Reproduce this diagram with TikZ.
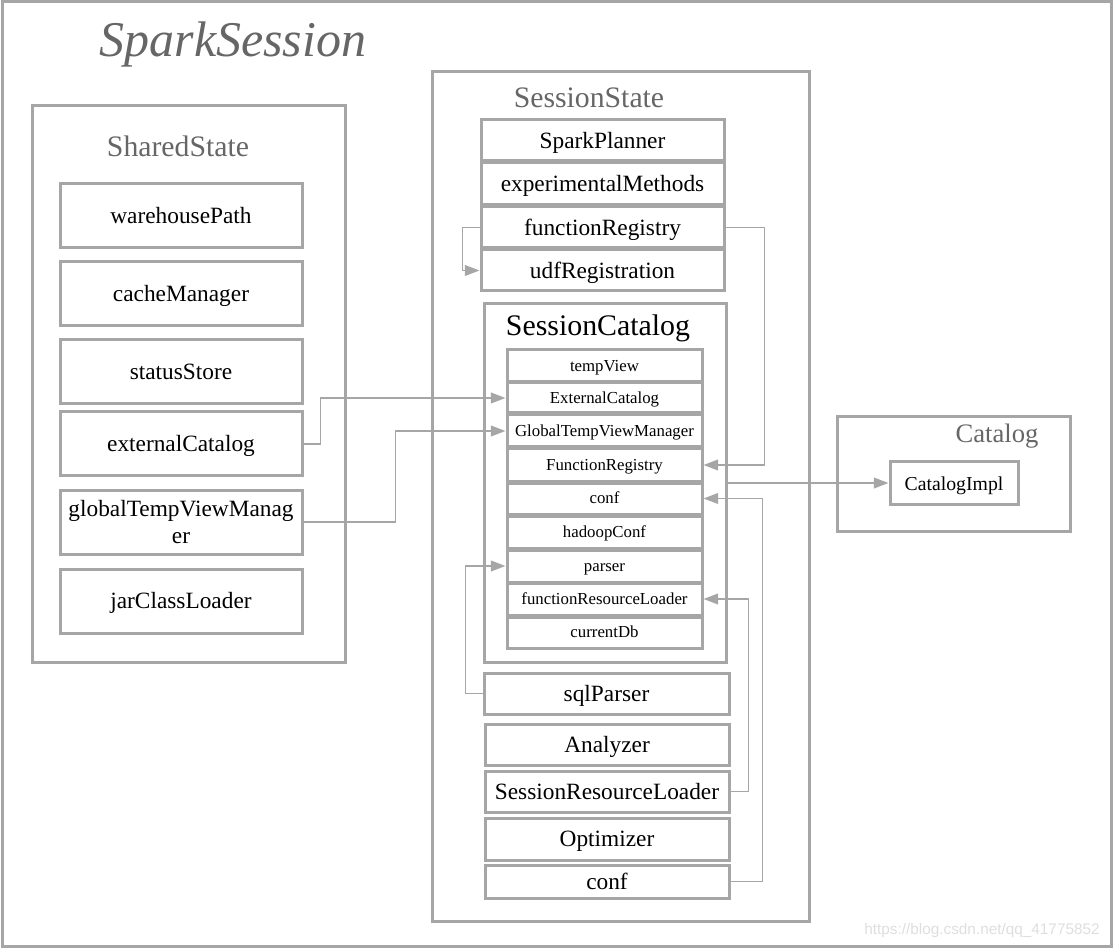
\documentclass[tikz,border=0pt]{standalone}
\usepackage{fontspec}
\setmainfont{Liberation Serif}
\newfontfamily\wmfont{Liberation Sans}
\usetikzlibrary{arrows.meta}
\definecolor{bordergray}{RGB}{166,166,166}
\definecolor{linegray}{RGB}{166,166,166}
\definecolor{titlegray}{RGB}{102,102,102}
\definecolor{wmgray}{RGB}{222,222,222}
\tikzset{
  cont/.style={draw=bordergray, line width=2.25pt, inner sep=0pt},
  itembase/.style={draw=bordergray, line width=2.25pt, fill=white, inner sep=0pt, align=center,
    font=\fontsize{17.5}{20}\selectfont},
  item/.style={itembase, text height=11.8pt, text depth=0pt},
  small/.style={itembase, font=\fontsize{12.6}{15}\selectfont, text height=7.6pt, text depth=0pt},
  ttl/.style={text=titlegray, inner sep=0pt, font=\fontsize{22.3}{26}\selectfont},
  conn/.style={draw=linegray, line width=1.4pt, -{Triangle[length=11pt,width=8pt]}},
}
\newcommand\boxnode[7]{%
  \pgfmathsetmacro\myBW{(#4-#2)*0.75}%
  \pgfmathsetmacro\myBH{(#5-#3)*0.75}%
  \node[#1, minimum width=\myBW pt, minimum height=\myBH pt] (#6) at ({(#2+#4)/2},{(#3+#5)/2}) {#7};}
\begin{document}
\begin{tikzpicture}[x=0.75pt,y=-0.75pt]
\useasboundingbox (0,0) rectangle (1114,948);
% containers
\boxnode{cont}{2}{2}{1111}{946}{spark}{}
\boxnode{cont}{32}{106}{345}{662}{shared}{}
\boxnode{cont}{432}{72}{809}{921}{sstate}{}
\boxnode{cont}{837}{417}{1070}{531}{catalog}{}
% titles
\node[ttl, font=\fontsize{37.5}{42}\itshape] (tspark) at (233,44) {SparkSession};
\node[ttl] (tshared) at (178,146) {SharedState};
\node[ttl] (tsstate) at (589,98) {SessionState};
\node[ttl, font=\fontsize{20}{23}\selectfont] (tcat) at (997,436) {Catalog};
% SharedState items
\boxnode{item}{60}{184}{302}{248}{wp}{warehousePath}
\boxnode{item}{60}{262}{302}{326}{cm}{cacheManager}
\boxnode{item}{60}{340}{302}{404}{ss}{statusStore}
\boxnode{item}{60}{412}{302}{476}{ec}{externalCatalog}
\boxnode{itembase}{60}{490}{302}{554}{gtvm}{globalTempViewManag\\er}
\boxnode{item}{60}{569}{302}{633}{jcl}{jarClassLoader}
% SessionState items
\boxnode{item}{481}{120}{724}{161}{sp}{SparkPlanner}
\boxnode{item}{481}{163}{724}{205}{em}{experimentalMethods}
\boxnode{item}{481}{207}{724}{248}{fr}{functionRegistry}
\boxnode{item}{481}{250}{724}{291}{udf}{udfRegistration}
\boxnode{cont}{484}{304}{726}{662}{scat}{}
\node[inner sep=0pt, font=\fontsize{22.4}{26}\selectfont] (tscat) at (598,328) {SessionCatalog};
% SessionCatalog items
\boxnode{small}{507}{350}{702}{382}{ctv}{tempView}
\boxnode{small}{507}{383}{702}{413}{cec}{ExternalCatalog}
\boxnode{small}{507}{415}{702}{447}{cgtvm}{GlobalTempViewManager}
\boxnode{small}{507}{449}{702}{481}{cfr}{FunctionRegistry}
\boxnode{small}{507}{483}{702}{514}{cconf}{conf}
\boxnode{small}{507}{516}{702}{548}{chc}{hadoopConf}
\boxnode{small}{507}{550}{702}{582}{cpar}{parser}
\boxnode{small}{507}{583}{702}{615}{cfrl}{functionResourceLoader}
\boxnode{small}{507}{617}{702}{648}{cdb}{currentDb}
% lower SessionState items
\boxnode{item}{484}{673}{729}{714}{sqlp}{sqlParser}
\boxnode{item}{485}{724}{729}{765}{ana}{Analyzer}
\boxnode{item}{485}{771}{729}{812}{srl}{SessionResourceLoader}
\boxnode{item}{485}{818}{729}{860}{opt}{Optimizer}
\boxnode{item}{485}{865}{729}{898}{sconf}{conf}
% Catalog
\boxnode{itembase, font=\fontsize{14.8}{17}\selectfont, text height=10.5pt, text depth=0pt}{890}{462}{1018}{504}{cimpl}{CatalogImpl}
% connectors
\draw[conn] (fr.west) -- ++(-17,0) |- (udf.west);
\draw[conn] (fr.east) -- ++(39,0) |- (cfr.east);
\draw[conn] (ec.east) -- ++(17,0) |- (cec.west);
\draw[conn] (gtvm.east) -- ++(92,0) |- (cgtvm.west);
\draw[conn] (scat.east |- cimpl.west) -- (cimpl.west);
\draw[conn] (sconf.east) -- ++(32,0) |- (cconf.east);
\draw[conn] (srl.east) -- ++(18,0) |- (cfrl.east);
\draw[conn] (sqlp.west) -- ++(-17,0) |- (cpar.west);
% watermark
\node[text=wmgray, inner sep=0pt, font=\wmfont\fontsize{11.5}{13}\selectfont] (wm) at (982,931) {https://blog.csdn.net/qq\_41775852};
\end{tikzpicture}
\end{document}
